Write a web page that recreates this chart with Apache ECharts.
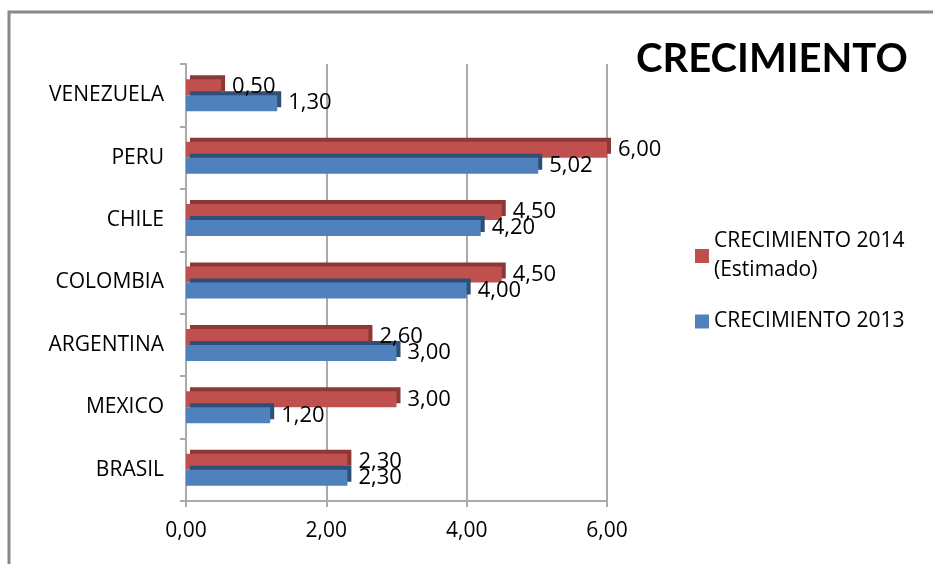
<!DOCTYPE html>
<html>
<head>
<meta charset="utf-8">
<script src="https://cdn.jsdelivr.net/npm/echarts@6/dist/echarts.min.js"></script>
<style>
  html, body { margin: 0; padding: 0; background: #fff; }
  #chart { width: 933px; height: 564px; }
</style>
</head>
<body>
<div id="chart"></div>
<script>
// datos del gráfico
const paises = ["BRASIL", "MEXICO", "ARGENTINA", "COLOMBIA", "CHILE", "PERU", "VENEZUELA"];
const crec2013 = [2.30, 1.20, 3.00, 4.00, 4.20, 5.02, 1.30];
const crec2014 = [2.30, 3.00, 2.60, 4.50, 4.50, 6.00, 0.50];
const ticksX = [0, 2, 4, 6];

const fuente = "'Open Sans', Lato, sans-serif";
const coma = v => Number(v).toFixed(2).replace(".", ",");

let myChart = echarts.init(document.getElementById("chart"));

const etiqueta = {
  show: true,
  position: "right",
  distance: 11,
  formatter: p => coma(p.value),
  fontFamily: fuente,
  fontSize: 22,
  color: "#000"
};

let option = {
  backgroundColor: "#fff",
  animation: false,
  title: {
    text: "CRECIMIENTO",
    left: 631,
    top: 34,
    textStyle: { fontFamily: "Lato, sans-serif", fontWeight: "bold", fontSize: 40, color: "#000" }
  },
  graphic: [
    {
      type: "rect",
      shape: { x: 9, y: 12, width: 1000, height: 1000 },
      style: { fill: null, stroke: "#888", lineWidth: 3 },
      silent: true
    }
  ],
  legend: {
    orient: "vertical",
    left: 690,
    top: 222,
    itemWidth: 14,
    itemHeight: 14,
    itemGap: 22,
    icon: "rect",
    data: ["CRECIMIENTO 2014\n(Estimado)", "CRECIMIENTO 2013"],
    textStyle: { fontFamily: fuente, fontSize: 21, color: "#000", lineHeight: 29 }
  },
  grid: {
    left: 186,
    right: 326,
    top: 64,
    bottom: 63,
    containLabel: false
  },
  xAxis: {
    type: "value",
    min: ticksX[0],
    max: ticksX[ticksX.length - 1],
    interval: 2,
    axisLabel: {
      formatter: coma,
      fontFamily: fuente,
      fontSize: 21,
      color: "#000",
      margin: 20
    },
    axisLine: { show: true, lineStyle: { color: "#aaa", width: 2 } },
    axisTick: { show: true, length: 6, lineStyle: { color: "#aaa", width: 2 } },
    splitLine: { show: true, lineStyle: { color: "#aaa", width: 2 } }
  },
  yAxis: {
    type: "category",
    data: paises,
    axisLabel: { fontFamily: fuente, fontSize: 21, color: "#000", margin: 22 },
    axisLine: { show: true, lineStyle: { color: "#aaa", width: 2 } },
    axisTick: { show: true, length: 6, lineStyle: { color: "#aaa", width: 2 } }
  },
  series: [
    {
      name: "CRECIMIENTO 2014\n(Estimado)",
      type: "bar",
      data: crec2014,
      barWidth: 16,
      barGap: "0%",
      itemStyle: {
        color: "#c0504d",
        shadowColor: "#8c3836",
        shadowOffsetX: 4,
        shadowOffsetY: -4,
        shadowBlur: 0
      },
      label: etiqueta
    },
    {
      name: "CRECIMIENTO 2013",
      type: "bar",
      data: crec2013,
      barWidth: 16,
      barGap: "0%",
      itemStyle: {
        color: "#4f81bd",
        shadowColor: "#2f4f77",
        shadowOffsetX: 4,
        shadowOffsetY: -4,
        shadowBlur: 0
      },
      label: etiqueta
    }
  ]
};

myChart.setOption(option);
</script>
</body>
</html>
